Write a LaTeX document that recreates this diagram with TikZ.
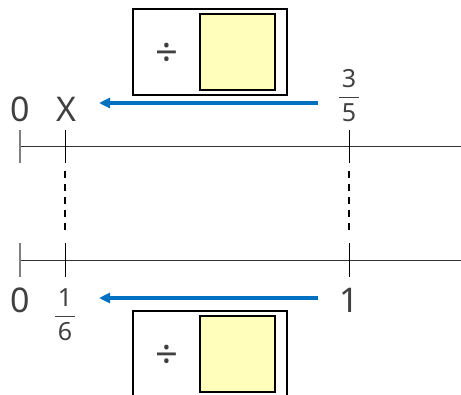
\documentclass[tikz,border=0pt]{standalone}
\usepackage{fontspec}
\setmainfont{Noto Sans}
\usetikzlibrary{arrows.meta}
\definecolor{txt}{HTML}{404040}
\definecolor{axis}{HTML}{333333}
\definecolor{arrowblue}{HTML}{0070C0}
\definecolor{pale}{HTML}{FFFFBB}
\tikzset{
  big/.style={font=\fontsize{34}{34}\selectfont, text=txt, inner sep=0pt},
  small/.style={font=\fontsize{25}{25}\selectfont, text=txt, inner sep=0pt},
  axisline/.style={draw=axis, line width=1pt},
  tickmark/.style={draw=black, line width=1pt},
  zerotick/.style={draw=gray, line width=1.2pt},
  guide/.style={draw=black, line width=1.3pt, dash pattern=on 7pt off 6pt},
  movearrow/.style={draw=arrowblue, line width=3.5pt, -{Triangle[length=11pt,width=10pt]}},
  framebox/.style={draw=black, line width=2pt, fill=white},
  answerbox/.style={draw=black, line width=2pt, fill=pale},
  divsign/.style={font=\fontsize{40}{40}\selectfont, text=txt, inner sep=0pt}
}
\begin{document}
\begin{tikzpicture}[x=1pt,y=-1pt]
\useasboundingbox (0,0) rectangle (461,394);

% upper operator box
\draw[framebox] (133,9) rectangle (287,95);
\draw[answerbox] (200,14) rectangle (275,90);
\node[divsign] (divtop) at (167,54.5) {÷};

% lower operator box (runs off the bottom edge)
\begin{scope}
\clip (0,0) rectangle (461,394);
\draw[framebox] (133,311) rectangle (287,400);
\draw[answerbox] (200,316) rectangle (275,392);
\end{scope}
\node[divsign] (divbot) at (167,357) {÷};

% number lines
\coordinate (topL) at (20,146);
\coordinate (topR) at (461,146);
\coordinate (botL) at (20,260);
\coordinate (botR) at (461,260);
\draw[axisline] (topL) -- (topR);
\draw[axisline] (botL) -- (botR);

% ticks on the upper line
\draw[zerotick] (20,130) -- (20,163);
\draw[tickmark] (65,130) -- (65,163);
\draw[tickmark] (349,130) -- (349,163);
% ticks on the lower line
\draw[zerotick] (20,243) -- (20,277);
\draw[tickmark] (65,243) -- (65,277);
\draw[tickmark] (349,243) -- (349,277);

% dashed guides linking the lines
\draw[guide] (65,171) -- (65,232);
\draw[guide] (349,171) -- (349,232);

% upper labels
\node[big] (zeroTop) at (20,109) {0};
\node[big] (xTop) at (66,109) {X};
\node[small] (num3) at (349,79) {3};
\draw[draw=txt, line width=0.9pt] (339,97.5) -- (359,97.5);
\node[small] (den5) at (349,113) {5};

% lower labels
\node[big] (zeroBot) at (20,300) {0};
\node[small] (num1) at (65,298) {1};
\draw[draw=txt, line width=0.9pt] (55,316.5) -- (75,316.5);
\node[small] (den6) at (65,332) {6};
\node[big] (oneBot) at (349,300) {1};

% blue arrows
\coordinate (aTopS) at (318,103);
\coordinate (aTopE) at (99,103);
\coordinate (aBotS) at (318,298);
\coordinate (aBotE) at (99,298);
\draw[movearrow] (aTopS) -- (aTopE);
\draw[movearrow] (aBotS) -- (aBotE);
\end{tikzpicture}
\end{document}
